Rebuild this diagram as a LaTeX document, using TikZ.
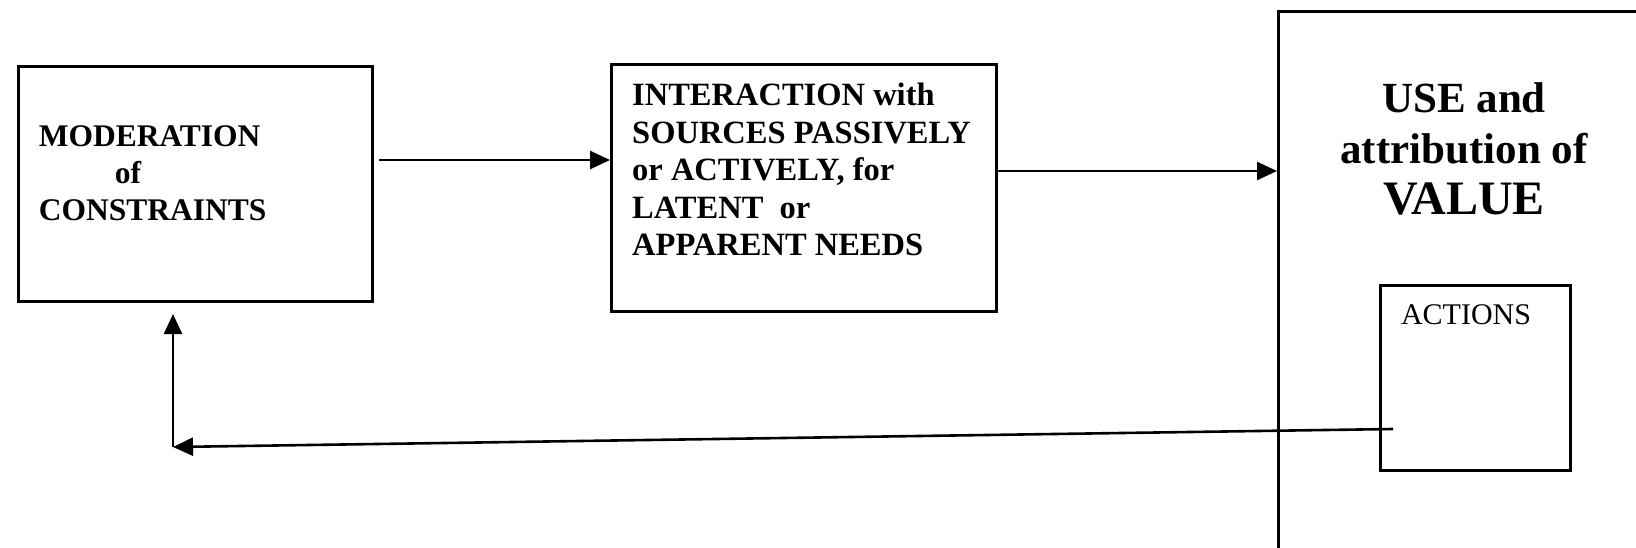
\documentclass[tikz,border=0pt]{standalone}
\usepackage{fontspec}
\setmainfont{Liberation Serif}
\usetikzlibrary{arrows.meta}
\begin{document}
\begin{tikzpicture}[x=1pt,y=-1pt,
  frame/.style={draw, line width=3pt, inner sep=0pt, anchor=north west},
  label/.style={inner sep=0pt, anchor=north west, align=left},
  link/.style={line width=2.6pt, -{Triangle[length=20pt,width=18pt]}},
]
\useasboundingbox (0,0) rectangle (1636,547);
\clip (0,0) rectangle (1636,547);

% boxes
\node[frame, minimum width=354pt, minimum height=235pt] (mod) at (17,65) {};
\node[frame, minimum width=385pt, minimum height=247pt] (int) at (610,63) {};
\node[frame, minimum width=460pt, minimum height=600pt] (use) at (1277,10) {};
\node[frame, minimum width=190pt, minimum height=185pt] (act) at (1379,284) {};

% box texts
\node[label, font=\fontsize{31.5}{37}\selectfont\bfseries] (modtxt) at (38.6,125)
  {MODERATION\\\hspace*{76pt}of\\CONSTRAINTS};
\node[label, font=\fontsize{32.5}{37.5}\selectfont\bfseries] (inttxt) at (632,83)
  {INTERACTION with\\SOURCES PASSIVELY\\or ACTIVELY, for\\LATENT~~or\\APPARENT NEEDS};
\node[inner sep=0pt, anchor=north, align=center, font=\fontsize{43}{51}\selectfont\bfseries] (usetxt) at (1464,82)
  {USE and\\attribution of\\{\fontsize{48}{51}\selectfont VALUE}};
\node[inner sep=0pt, anchor=base, font=\fontsize{30}{36}\selectfont] (acttxt) at (1466,324) {ACTIONS};

% connectors
\draw[link] ([xshift=5pt]mod.east |- 0,160) -- (int.west |- 0,160);
\draw[link] (int.east |- 0,171) -- (use.west |- 0,171);
\coordinate (fb) at (1393,429);
\coordinate (corner) at (173,447);
\draw[link] (fb) -- (corner);
\draw[link, shorten >=11pt] (corner) -- (corner |- mod.south);
\end{tikzpicture}
\end{document}
